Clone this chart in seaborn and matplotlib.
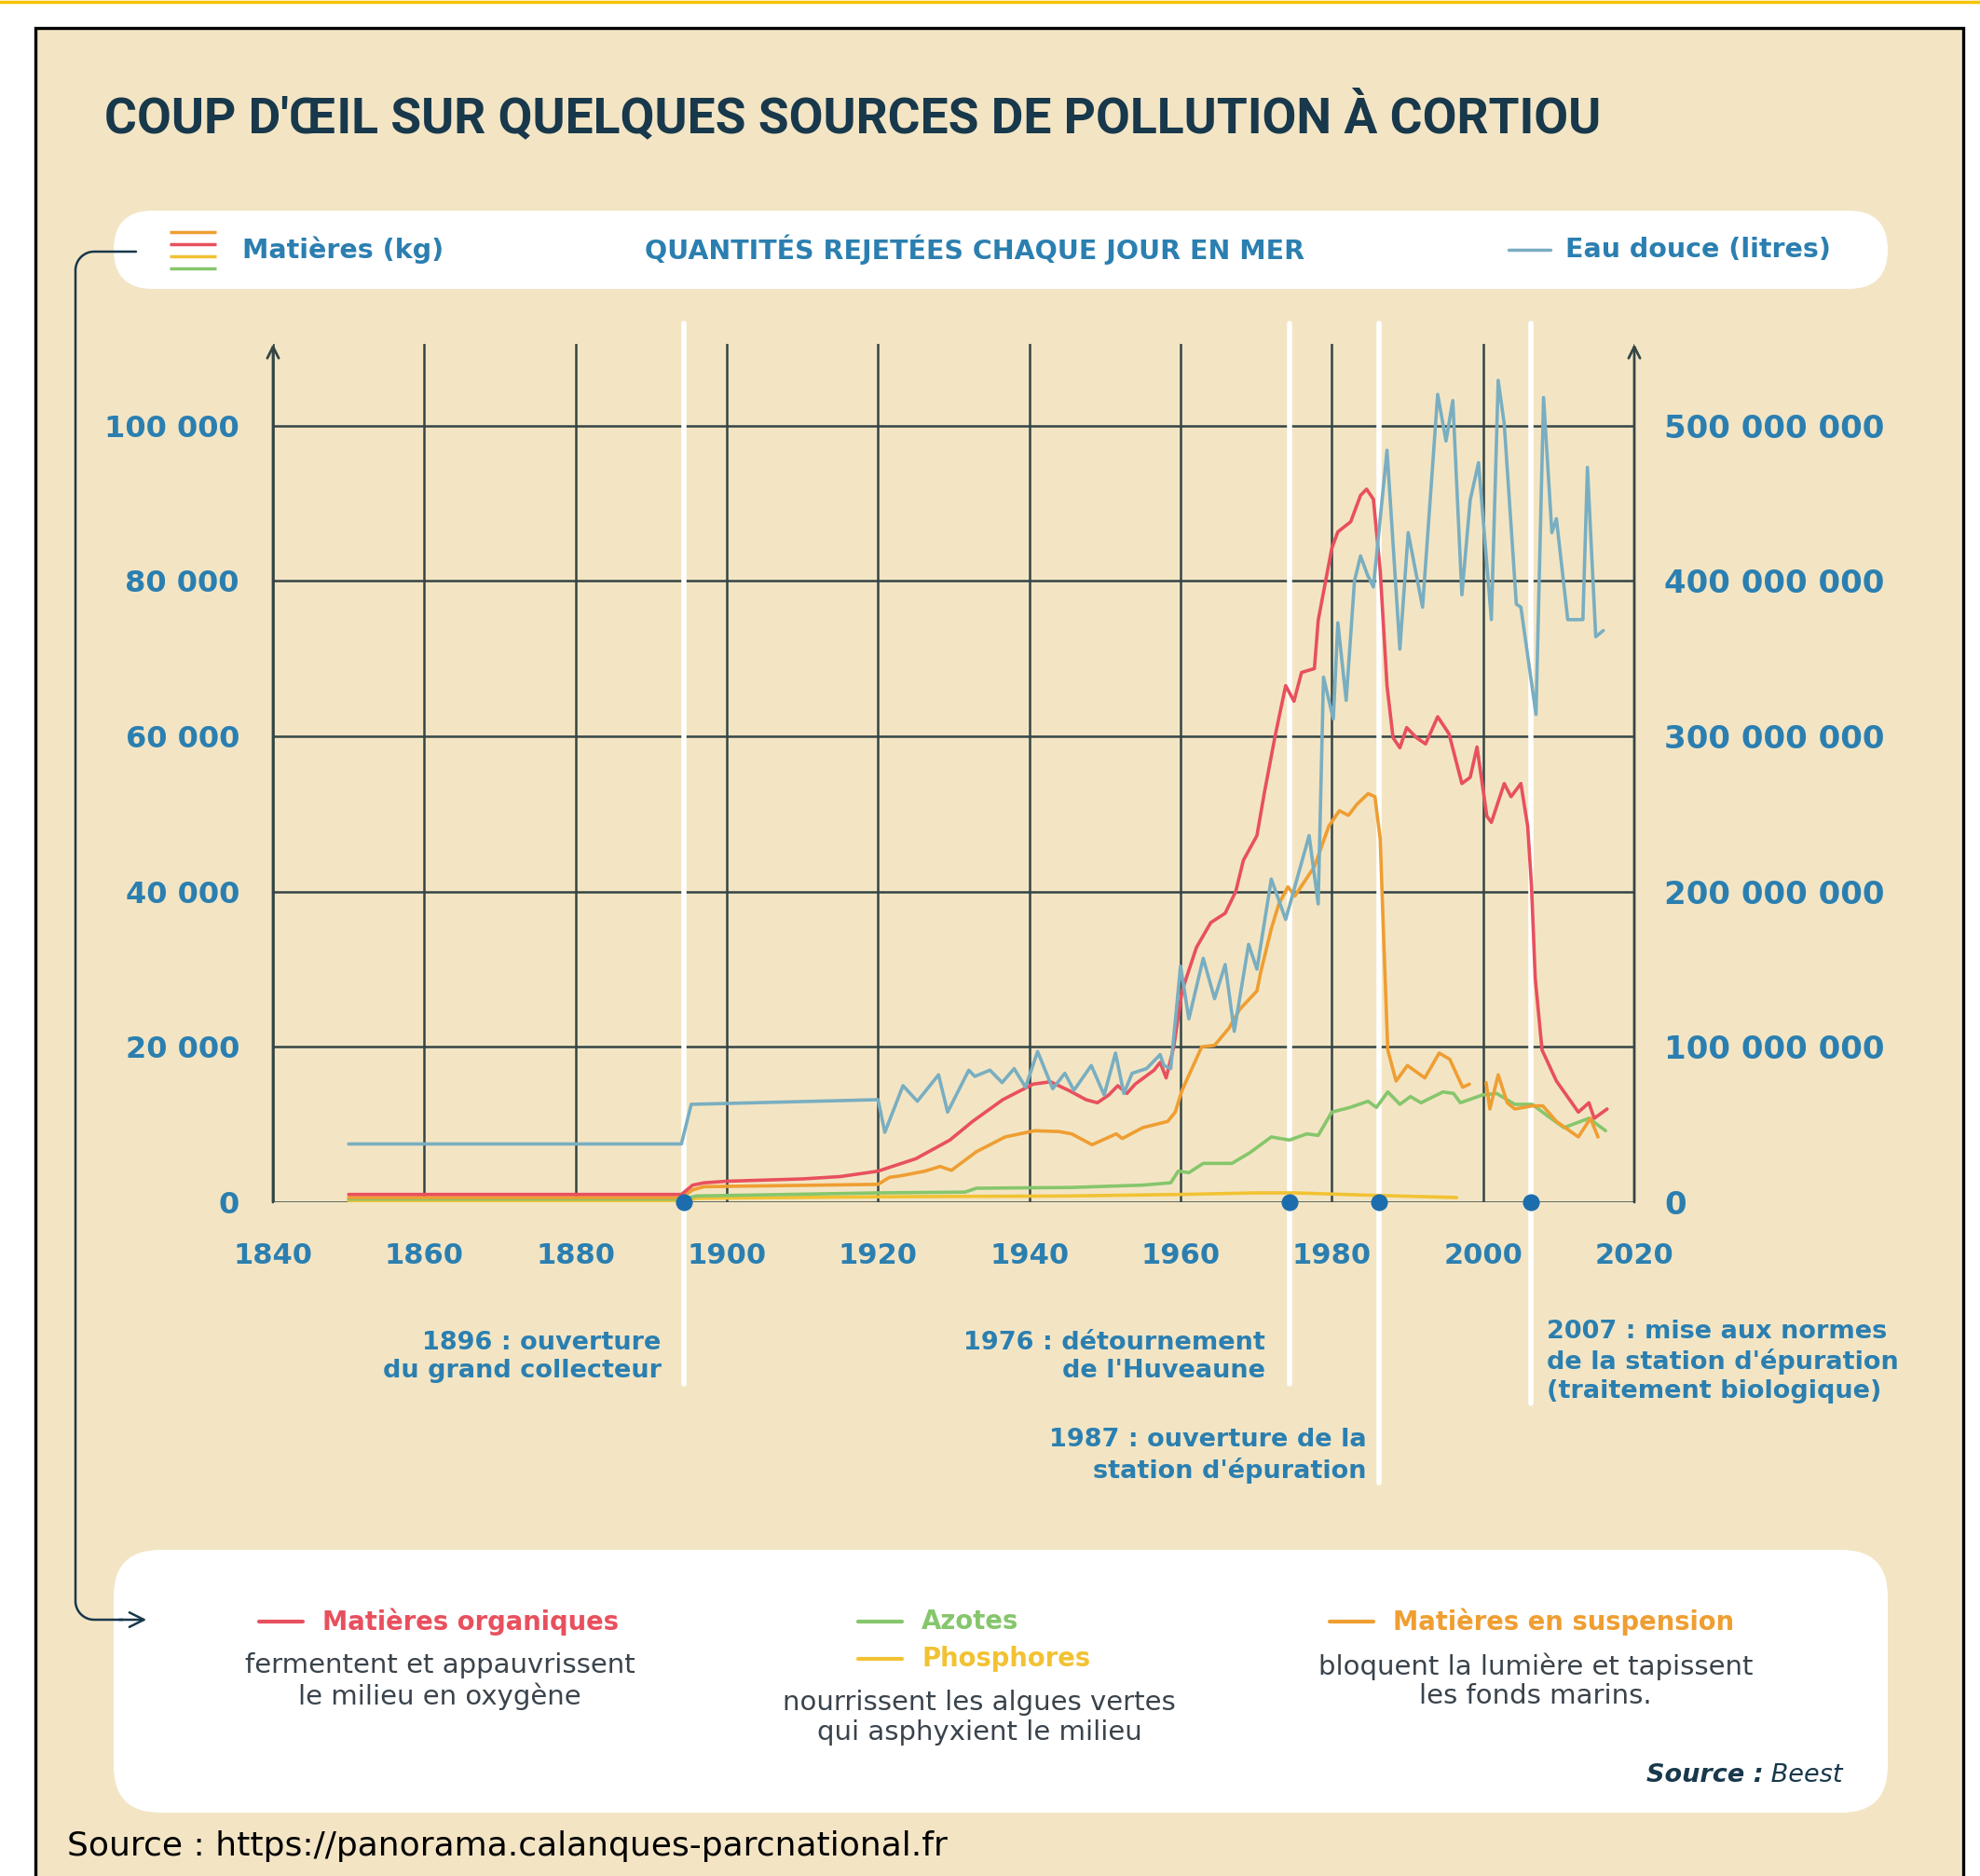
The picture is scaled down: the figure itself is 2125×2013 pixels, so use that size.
import numpy as np
import matplotlib
matplotlib.use("Agg")
import matplotlib.pyplot as plt
from matplotlib.patches import FancyBboxPatch, Rectangle
import seaborn as sns

# --- data (read from the infographic) ---------------------------------------
# Matières organiques (kg / day)
org_years = [1850, 1894, 1895.5, 1897, 1900, 1910, 1915, 1920, 1925, 1929.5, 1932.5, 1936.5,
             1940.5, 1942.8, 1945.2, 1947.5, 1949, 1950.5, 1951.7, 1952.9, 1954, 1956.5, 1957.3,
             1958.1, 1959.1, 1960.2, 1962.1, 1964, 1965.9, 1967.3, 1968.3, 1970.1, 1971.1, 1972.5,
             1973.9, 1975.0, 1976.0, 1977.7, 1978.2, 1980, 1980.8, 1982.5, 1983.8, 1984.6, 1985.5,
             1986.4, 1987.3, 1988.1, 1989, 1989.9, 1991.2, 1992.4, 1994, 1995.5, 1997.2, 1998.3,
             1999.2, 2000.5, 2001.1, 2002.8, 2003.7, 2005, 2005.9, 2006.4, 2006.9, 2007.8, 2009.7,
             2012.6, 2014, 2014.7, 2016.4]
org_kg = [1000, 1000, 2200, 2500, 2700, 3000, 3300, 4000, 5600, 8000, 10400, 13200,
          15200, 15500, 14400, 13200, 12800, 13800, 15000, 14000, 15200, 17000, 18000,
          16000, 20000, 27200, 32800, 36000, 37200, 40000, 44000, 47200, 52800, 60000,
          66500, 64500, 68200, 68700, 74900, 84200, 86300, 87600, 91000, 91800, 90500,
          81300, 66500, 59800, 58500, 61100, 59800, 59000, 62500, 60300, 53900, 54700,
          58600, 49700, 48900, 53900, 52200, 53900, 48400, 40800, 28800, 19600, 15600,
          11600, 12800, 10800, 12000]

# Matières en suspension (kg / day) - nan = gap in the record
susp_years = [1850, 1894, 1895.5, 1897, 1920, 1921.5, 1923, 1926.2, 1928.2, 1929.7, 1933, 1936.8,
              1940.7, 1943.9, 1945.6, 1948.3, 1951.5, 1952.3, 1955, 1958.3, 1959.3, 1960.2, 1962.8,
              1964.5, 1966.4, 1967.8, 1970.1, 1970.6, 1972, 1973, 1974.2, 1975.1, 1977.7, 1979.6,
              1981, 1982.2, 1983.3, 1984.8, 1985.7, 1986.4, 1986.9, 1987.4, 1988.5, 1990, 1992.3,
              1994.2, 1995.6, 1997.3, 1998.2, 1999.3, 2000.4, 2000.9, 2002, 2003.2, 2004.2, 2006.5,
              2007.9, 2009.7, 2012.6, 2014.2, 2015.2]
susp_kg = [600, 600, 1600, 2000, 2300, 3200, 3400, 4000, 4600, 4100, 6500, 8400,
           9200, 9100, 8800, 7400, 8800, 8200, 9600, 10400, 11600, 14400, 20000,
           20200, 22400, 24800, 27200, 29600, 35200, 38400, 40600, 39400, 43200, 48400,
           50400, 49800, 51200, 52600, 52200, 46800, 32800, 19600, 15600, 17600, 16000,
           19200, 18400, 14800, 15200, np.nan, 15400, 12000, 16400, 12800, 12000, 12400,
           12400, 10400, 8400, 10800, 8400]

# Azotes (kg / day)
azote_years = [1850, 1894, 1896, 1920, 1931.5, 1933, 1945.6, 1955, 1958.7, 1959.7, 1961.1, 1963,
               1966.8, 1969.2, 1972, 1974.4, 1976.7, 1978.2, 1980, 1982.4, 1984.8, 1985.9, 1987.4,
               1989, 1990.4, 1991.8, 1994.7, 1996.1, 1997, 1999.9, 2001.8, 2004.2, 2006.5, 2008.4,
               2010.7, 2014, 2016.2]
azote_kg = [400, 400, 800, 1200, 1300, 1800, 1900, 2200, 2500, 4000, 3800, 5000,
            5000, 6400, 8400, 8000, 8800, 8600, 11600, 12200, 13000, 12200, 14200,
            12600, 13600, 12800, 14200, 14000, 12800, 13800, 14000, 12600, 12600, 11200,
            9600, 10800, 9200]

# Phosphores (kg / day)
phos_years = [1850, 1894, 1896, 1920, 1945, 1960, 1970, 1975, 1985, 1996.5]
phos_kg = [200, 200, 500, 700, 800, 1000, 1200, 1200, 900, 600]

# Eau douce (millions of litres / day), right axis
water_years = [1850, 1894, 1895.3, 1920, 1920.9, 1923.3, 1925.2, 1928, 1929.2, 1932, 1932.8,
               1934.8, 1936.4, 1938, 1939.5, 1941.1, 1943.1, 1944.7, 1945.9, 1948.2, 1949.9,
               1951.4, 1952.5, 1953.6, 1955.5, 1957.3, 1957.8, 1958.7, 1960, 1961.1, 1963, 1964.5,
               1965.9, 1967.1, 1969, 1970.1, 1972, 1973.9, 1977, 1978.2, 1978.9, 1980.2, 1980.8,
               1981.9, 1983, 1983.8, 1984.7, 1985.5, 1987.3, 1989, 1990.1, 1992, 1994, 1995.1,
               1996, 1997.2, 1998.3, 1999.4, 2001.1, 2002, 2002.8, 2004.4, 2005, 2007, 2008,
               2009.1, 2009.7, 2011.2, 2013.2, 2013.8, 2014.9, 2015.9]
water_ml = [37.5, 37.5, 63, 66, 45, 75, 65, 82, 58, 85, 81,
            85, 77, 86, 74, 97, 73, 83, 72, 88, 69,
            96, 70, 83, 86, 95, 88, 86, 152, 118, 157, 131,
            153, 110, 166, 150, 208, 182, 236, 192, 338, 311, 373,
            323, 400, 416, 404, 396, 484, 356, 431, 383, 520, 490,
            516, 391, 452, 476, 375, 529, 501, 385, 383, 314, 518,
            431, 440, 375, 375, 473, 364, 368]

# key dates (as drawn on the time axis)
event_years = [1894.3, 1974.4, 1986.3, 2006.3]
event_labels = ["1896 : ouverture\ndu grand collecteur",
                "1976 : détournement\nde l'Huveaune",
                "1987 : ouverture de la\nstation d'épuration",
                "2007 : mise aux normes\nde la station d'épuration\n(traitement biologique)"]

kg_ticks = [0, 20000, 40000, 60000, 80000, 100000]
litre_ticks = [0, 100e6, 200e6, 300e6, 400e6, 500e6]
year_ticks = list(range(1840, 2021, 20))

# --- style --------------------------------------------------------------------
BEIGE = "#F3E5C4"
NAVY = "#18384B"
BLUE_TXT = "#2B7FB0"
GRID = "#344545"
RED = "#E8505E"
ORANGE = "#EF9E32"
GREEN = "#86C66C"
YELLOW = "#F2C233"
WATER = "#79AEC1"
DOT = "#1C6DAE"
GREY_TXT = "#3A434B"
LW = 2.6

W, H = 2125, 2013
sns.set_style("white")
plt.rcParams["font.family"] = ["DejaVu Sans"]

fig = plt.figure(figsize=(W / 100, H / 100), dpi=100, facecolor="white")

# background layer in pixel coordinates
bg = fig.add_axes([0, 0, 1, 1])
bg.set_xlim(0, W)
bg.set_ylim(H, 0)
bg.axis("off")
bg.add_patch(Rectangle((38, 30), 2069, 2100, fc=BEIGE, ec="black", lw=2.4))
bg.plot([0, W], [1.5, 1.5], color="#F5C300", lw=2.5)

bg.text(112, 125, "COUP D'ŒIL SUR QUELQUES SOURCES DE POLLUTION À CORTIOU",
        family=["Roboto", "DejaVu Sans"], weight="bold", fontsize=38.4, color=NAVY, va="center")

# header bar
bg.add_patch(FancyBboxPatch((122, 226), 1904, 84, boxstyle="round,pad=0,rounding_size=42",
                            fc="white", ec="none"))
for yy, c in zip([249, 262, 275, 288], [ORANGE, RED, YELLOW, GREEN]):
    bg.plot([182, 232], [yy, yy], color=c, lw=2.5, solid_capstyle="butt")
bg.text(260, 268, "Matières (kg)", color=BLUE_TXT, weight="bold", fontsize=20.5, va="center")
bg.text(1046, 268, "QUANTITÉS REJETÉES CHAQUE JOUR EN MER", color=BLUE_TXT, weight="bold",
        fontsize=20.5, va="center", ha="center")
bg.plot([1619, 1664], [268, 268], color=WATER, lw=2.5)
bg.text(1680, 268, "Eau douce (litres)", color=BLUE_TXT, weight="bold", fontsize=20.5, va="center")

# connector from header to legend box
r = 20
t = np.linspace(0, np.pi / 2, 20)
cx = np.concatenate([[146, 81 + r], 81 + r - r * np.sin(t), [81], 81 + r - r * np.cos(t), [132]])
cy = np.concatenate([[270, 270], 270 + r - r * np.cos(t), [1718], 1718 + r * np.sin(t), [1738]])
bg.plot(cx, cy, color=NAVY, lw=1.8)
bg.annotate("", xy=(160, 1738), xytext=(125, 1738),
            arrowprops=dict(arrowstyle="->", color=NAVY, lw=1.8, mutation_scale=28))

# legend box
bg.add_patch(FancyBboxPatch((122, 1663), 1904, 282, boxstyle="round,pad=0,rounding_size=50",
                            fc="white", ec="none"))
legend_items = [(278, 1740, RED, "Matières organiques"),
                (921, 1740, GREEN, "Azotes"),
                (921, 1780, YELLOW, "Phosphores"),
                (1427, 1740, ORANGE, "Matières en suspension")]
for x0, yy, c, lab in legend_items:
    bg.plot([x0, x0 + 47], [yy, yy], color=c, lw=3)
    bg.text(x0 + 68, yy, lab, color=c, weight="bold", fontsize=19.8, va="center")
desc = [(472, 1804, "fermentent et appauvrissent\nle milieu en oxygène"),
        (1051, 1843, "nourrissent les algues vertes\nqui asphyxient le milieu"),
        (1648, 1804, "bloquent la lumière et tapissent\nles fonds marins.")]
for xx, yy, s in desc:
    bg.text(xx, yy, s, color=GREY_TXT, fontsize=21, ha="center", va="center", linespacing=1.15)

src = bg.text(1978, 1905, " Beest", color=NAVY, style="italic", fontsize=19.5, ha="right", va="center")
fig.canvas.draw()
ext = src.get_window_extent()
bg.text(ext.x0 / fig.dpi * 100, 1905, "Source :", color=NAVY, style="italic", weight="bold",
        fontsize=19.5, ha="right", va="center")

bg.text(72, 1981, "Source : https://panorama.calanques-parcnational.fr", color="black",
        fontsize=26, va="center")

# --- main chart ------------------------------------------------------------------
YTOP = 110500
ax = fig.add_axes([293 / W, (H - 1290) / H, (1754 - 293) / W, (1290 - 369) / H])
ax.patch.set_alpha(0)
ax.set_xlim(1840, 2020)
ax.set_ylim(0, YTOP)
for s in ax.spines.values():
    s.set_visible(False)
ax.set_xticks(year_ticks)
ax.set_yticks(kg_ticks)
ax.grid(True, color=GRID, lw=1.8, zorder=0)
ax.set_axisbelow(True)
ax.set_xticklabels([str(y) for y in year_ticks])
ax.set_yticklabels([f"{v:,.0f}".replace(",", " ") for v in kg_ticks])
ax.tick_params(axis="y", length=0, pad=26, labelsize=23, labelcolor=BLUE_TXT)
ax.tick_params(axis="x", length=0, pad=31, labelsize=22, labelcolor=BLUE_TXT)
for lab in ax.get_xticklabels() + ax.get_yticklabels():
    lab.set_fontweight("bold")

# axis lines with arrow heads
for xa in (1840, 2020):
    ax.annotate("", xy=(xa, YTOP), xytext=(xa, 0),
                arrowprops=dict(arrowstyle="->", color=GRID, lw=2.0, mutation_scale=22,
                                shrinkA=0, shrinkB=0))

# white event lines, dots and labels
line_bottoms = [-0.212, -0.212, -0.327, -0.235]
label_offsets = [(-24, -166, "right"), (-26, -166, "right"), (-14, -272, "right"), (17, -171, "left")]
for yr, yb, lab, (dx, dy, ha) in zip(event_years, line_bottoms, event_labels, label_offsets):
    ax.axvline(yr, ymin=yb, ymax=1.024, color="white", lw=4, zorder=2, clip_on=False)
    ax.annotate(lab, xy=(yr, 0), xytext=(dx, dy), textcoords="offset pixels", ha=ha, va="center",
                color=BLUE_TXT, weight="bold", fontsize=19.5, linespacing=1.25)
ax.scatter(event_years, [0] * len(event_years), s=170, color=DOT, zorder=8, clip_on=False,
           linewidths=0)

# series
sns.lineplot(x=phos_years, y=phos_kg, ax=ax, color=YELLOW, lw=LW, estimator=None, zorder=4)
sns.lineplot(x=azote_years, y=azote_kg, ax=ax, color=GREEN, lw=LW, estimator=None, zorder=4)
susp_x = np.array(susp_years)
susp_y = np.array(susp_kg)
breaks = np.where(np.isnan(susp_y))[0]
for seg_x, seg_y in zip(np.split(susp_x, breaks), np.split(susp_y, breaks)):
    ok = ~np.isnan(seg_y)
    sns.lineplot(x=seg_x[ok], y=seg_y[ok], ax=ax, color=ORANGE, lw=LW, estimator=None, zorder=5)
sns.lineplot(x=org_years, y=org_kg, ax=ax, color=RED, lw=LW, estimator=None, zorder=6)
ax.set_xlabel("")
ax.set_ylabel("")

ax2 = ax.twinx()
ax2.set_ylim(0, YTOP * 5000)
for s in ax2.spines.values():
    s.set_visible(False)
sns.lineplot(x=water_years, y=np.array(water_ml) * 1e6, ax=ax2, color=WATER, lw=LW,
             estimator=None, zorder=5)
ax2.set_yticks(litre_ticks)
ax2.set_yticklabels([f"{v:,.0f}".replace(",", " ") for v in litre_ticks])
ax2.tick_params(axis="y", length=0, pad=23, labelsize=24.5, labelcolor=BLUE_TXT)
for lab in ax2.get_yticklabels():
    lab.set_fontweight("bold")
ax2.set_ylabel("")
ax2.grid(False)

fig.savefig("out.png", dpi=100)
